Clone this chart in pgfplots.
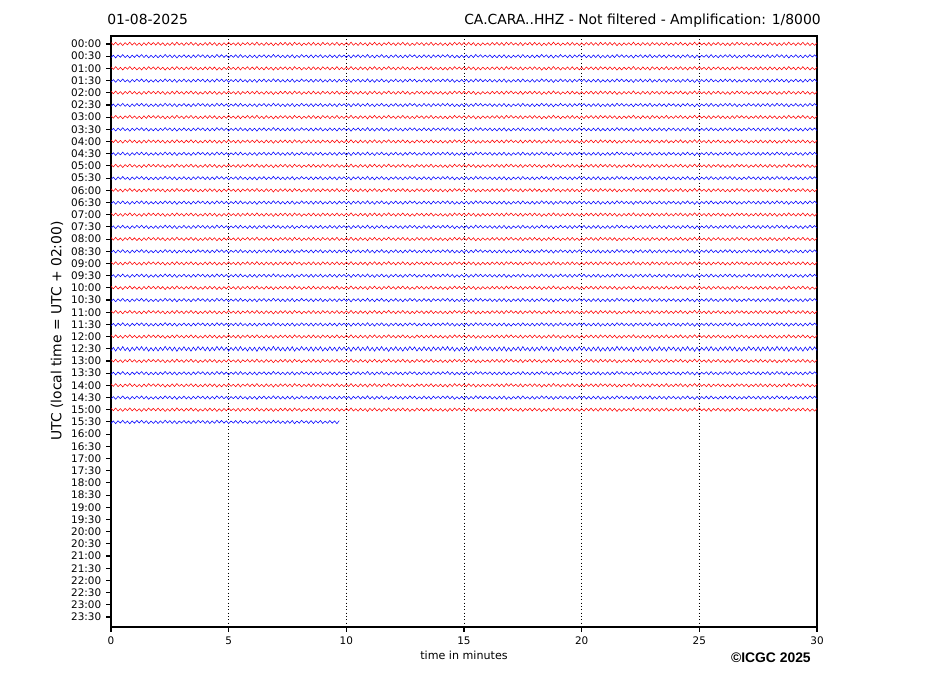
\documentclass[border=0pt]{standalone}
\usepackage{pgfplots}
\pgfplotsset{compat=1.18}
\usepackage{pgfplotstable}
\usepackage{fontspec}
\setmainfont{DejaVu Sans}
\newfontfamily\arialfont{Liberation Sans}

% one short stretch of trace noise, in row units (x in minutes)
\pgfplotstableread[row sep=\\]{
x y\\
0.0 -0.12\\ 0.1 0.08\\ 0.2 -0.14\\ 0.3 0.10\\ 0.4 -0.09\\ 0.5 0.13\\ 0.6 -0.11\\ 0.7 0.07\\ 0.8 -0.15\\ 0.9 0.09\\
1.0 -0.10\\ 1.1 0.12\\ 1.2 -0.08\\ 1.3 0.13\\ 1.4 -0.11\\ 1.5 0.10\\ 1.6 -0.14\\ 1.7 0.07\\ 1.8 -0.12\\ 1.9 0.09\\
2.0 -0.13\\ 2.1 0.09\\ 2.2 -0.10\\ 2.3 0.14\\ 2.4 -0.08\\ 2.5 0.11\\ 2.6 -0.12\\ 2.7 0.10\\ 2.8 -0.15\\ 2.9 0.08\\
3.0 -0.09\\ 3.1 0.12\\ 3.2 -0.11\\ 3.3 0.08\\ 3.4 -0.14\\ 3.5 0.10\\ 3.6 -0.10\\ 3.7 0.13\\ 3.8 -0.07\\ 3.9 0.11\\
4.0 -0.12\\ 4.1 0.10\\ 4.2 -0.13\\ 4.3 0.09\\ 4.4 -0.11\\ 4.5 0.14\\ 4.6 -0.08\\ 4.7 0.12\\ 4.8 -0.10\\ 4.9 0.09\\
5.0 -0.14\\ 5.1 0.08\\ 5.2 -0.09\\ 5.3 0.11\\ 5.4 -0.12\\ 5.5 0.13\\ 5.6 -0.10\\ 5.7 0.07\\ 5.8 -0.13\\ 5.9 0.10\\
6.0 -0.11\\ 6.1 0.09\\ 6.2 -0.15\\ 6.3 0.10\\ 6.4 -0.08\\ 6.5 0.12\\ 6.6 -0.12\\ 6.7 0.09\\ 6.8 -0.10\\ 6.9 0.14\\
7.0 -0.09\\ 7.1 0.11\\ 7.2 -0.12\\ 7.3 0.08\\ 7.4 -0.13\\ 7.5 0.10\\ 7.6 -0.11\\ 7.7 0.12\\ 7.8 -0.14\\ 7.9 0.07\\
8.0 -0.10\\ 8.1 0.13\\ 8.2 -0.08\\ 8.3 0.09\\ 8.4 -0.12\\ 8.5 0.11\\ 8.6 -0.13\\ 8.7 0.10\\ 8.8 -0.09\\ 8.9 0.12\\
9.0 -0.13\\ 9.1 0.07\\ 9.2 -0.11\\ 9.3 0.12\\ 9.4 -0.10\\ 9.5 0.09\\ 9.6 -0.14\\ 9.7 0.11\\ 9.8 -0.08\\ 9.9 0.10\\
10.0 -0.11\\ 10.1 0.09\\ 10.2 -0.15\\ 10.3 0.10\\ 10.4 -0.08\\ 10.5 0.12\\ 10.6 -0.12\\ 10.7 0.09\\ 10.8 -0.10\\ 10.9 0.14\\
11.0 -0.12\\ 11.1 0.08\\ 11.2 -0.14\\ 11.3 0.10\\ 11.4 -0.09\\ 11.5 0.13\\ 11.6 -0.11\\ 11.7 0.07\\ 11.8 -0.15\\ 11.9 0.09\\
12.0 -0.09\\ 12.1 0.12\\ 12.2 -0.11\\ 12.3 0.08\\ 12.4 -0.14\\ 12.5 0.10\\ 12.6 -0.10\\ 12.7 0.13\\ 12.8 -0.07\\ 12.9 0.11\\
13.0 -0.13\\ 13.1 0.07\\ 13.2 -0.11\\ 13.3 0.12\\ 13.4 -0.10\\ 13.5 0.09\\ 13.6 -0.14\\ 13.7 0.11\\ 13.8 -0.08\\ 13.9 0.10\\
14.0 -0.10\\ 14.1 0.12\\ 14.2 -0.08\\ 14.3 0.13\\ 14.4 -0.11\\ 14.5 0.10\\ 14.6 -0.14\\ 14.7 0.07\\ 14.8 -0.12\\ 14.9 0.09\\
15.0 -0.12\\ 15.1 0.10\\ 15.2 -0.13\\ 15.3 0.09\\ 15.4 -0.11\\ 15.5 0.14\\ 15.6 -0.08\\ 15.7 0.12\\ 15.8 -0.10\\ 15.9 0.09\\
16.0 -0.09\\ 16.1 0.11\\ 16.2 -0.12\\ 16.3 0.08\\ 16.4 -0.13\\ 16.5 0.10\\ 16.6 -0.11\\ 16.7 0.12\\ 16.8 -0.14\\ 16.9 0.07\\
17.0 -0.14\\ 17.1 0.08\\ 17.2 -0.09\\ 17.3 0.11\\ 17.4 -0.12\\ 17.5 0.13\\ 17.6 -0.10\\ 17.7 0.07\\ 17.8 -0.13\\ 17.9 0.10\\
18.0 -0.13\\ 18.1 0.09\\ 18.2 -0.10\\ 18.3 0.14\\ 18.4 -0.08\\ 18.5 0.11\\ 18.6 -0.12\\ 18.7 0.10\\ 18.8 -0.15\\ 18.9 0.08\\
19.0 -0.10\\ 19.1 0.13\\ 19.2 -0.08\\ 19.3 0.09\\ 19.4 -0.12\\ 19.5 0.11\\ 19.6 -0.13\\ 19.7 0.10\\ 19.8 -0.09\\ 19.9 0.12\\
20.0 -0.09\\ 20.1 0.11\\ 20.2 -0.12\\ 20.3 0.08\\ 20.4 -0.13\\ 20.5 0.10\\ 20.6 -0.11\\ 20.7 0.12\\ 20.8 -0.14\\ 20.9 0.07\\
21.0 -0.12\\ 21.1 0.10\\ 21.2 -0.13\\ 21.3 0.09\\ 21.4 -0.11\\ 21.5 0.14\\ 21.6 -0.08\\ 21.7 0.12\\ 21.8 -0.10\\ 21.9 0.09\\
22.0 -0.11\\ 22.1 0.09\\ 22.2 -0.15\\ 22.3 0.10\\ 22.4 -0.08\\ 22.5 0.12\\ 22.6 -0.12\\ 22.7 0.09\\ 22.8 -0.10\\ 22.9 0.14\\
23.0 -0.13\\ 23.1 0.07\\ 23.2 -0.11\\ 23.3 0.12\\ 23.4 -0.10\\ 23.5 0.09\\ 23.6 -0.14\\ 23.7 0.11\\ 23.8 -0.08\\ 23.9 0.10\\
24.0 -0.12\\ 24.1 0.08\\ 24.2 -0.14\\ 24.3 0.10\\ 24.4 -0.09\\ 24.5 0.13\\ 24.6 -0.11\\ 24.7 0.07\\ 24.8 -0.15\\ 24.9 0.09\\
25.0 -0.14\\ 25.1 0.08\\ 25.2 -0.09\\ 25.3 0.11\\ 25.4 -0.12\\ 25.5 0.13\\ 25.6 -0.10\\ 25.7 0.07\\ 25.8 -0.13\\ 25.9 0.10\\
26.0 -0.10\\ 26.1 0.12\\ 26.2 -0.08\\ 26.3 0.13\\ 26.4 -0.11\\ 26.5 0.10\\ 26.6 -0.14\\ 26.7 0.07\\ 26.8 -0.12\\ 26.9 0.09\\
27.0 -0.10\\ 27.1 0.13\\ 27.2 -0.08\\ 27.3 0.09\\ 27.4 -0.12\\ 27.5 0.11\\ 27.6 -0.13\\ 27.7 0.10\\ 27.8 -0.09\\ 27.9 0.12\\
28.0 -0.13\\ 28.1 0.09\\ 28.2 -0.10\\ 28.3 0.14\\ 28.4 -0.08\\ 28.5 0.11\\ 28.6 -0.12\\ 28.7 0.10\\ 28.8 -0.15\\ 28.9 0.08\\
29.0 -0.09\\ 29.1 0.12\\ 29.2 -0.11\\ 29.3 0.08\\ 29.4 -0.14\\ 29.5 0.10\\ 29.6 -0.10\\ 29.7 0.13\\ 29.8 -0.07\\ 29.9 0.11\\
30.0 -0.10\\
}\noise

\begin{document}
\begin{tikzpicture}
\begin{axis}[
  at={(79.92pt,49.68pt)}, anchor=south west,
  scale only axis, width=508.32pt, height=425.52pt,
  xmin=0, xmax=30, ymin=-0.656, ymax=47.82, y dir=reverse,
  xtick={0,5,10,15,20,25,30},
  ytick={0,1,...,47},
  yticklabels={00:00,00:30,01:00,01:30,02:00,02:30,03:00,03:30,04:00,04:30,05:00,05:30,
    06:00,06:30,07:00,07:30,08:00,08:30,09:00,09:30,10:00,10:30,11:00,11:30,
    12:00,12:30,13:00,13:30,14:00,14:30,15:00,15:30,16:00,16:30,17:00,17:30,
    18:00,18:30,19:00,19:30,20:00,20:30,21:00,21:30,22:00,22:30,23:00,23:30},
  xtick pos=bottom, ytick pos=left, tick align=outside,
  major tick length=3.5pt,
  every tick/.style={black, line width=0.8pt},
  axis line style={line width=0.8pt},
  tick label style={font=\fontsize{7.5}{9}\selectfont},
  /pgf/number format/assume math mode=true,
  xmajorgrids, ymajorgrids=false,
  grid style={black, dotted, line width=0.5pt},
  clip=true,
]
\pgfplotsinvokeforeach{0,2,...,30}{
  \addplot[red, line width=0.4pt] table[x=x, y expr=#1+\thisrow{y}] {\noise};
}
\pgfplotsinvokeforeach{1,3,...,23,27,29}{
  \addplot[blue, line width=0.4pt] table[x=x, y expr=#1-\thisrow{y}] {\noise};
}
\addplot[blue, line width=0.4pt] table[x=x, y expr=25-1.4*\thisrow{y}] {\noise};
\addplot[blue, line width=0.4pt, restrict x to domain=0:9.77] table[x=x, y expr=31-\thisrow{y}] {\noise};
\end{axis}
\node[inner sep=0pt, anchor=base west, font=\fontsize{10}{12}\selectfont] at (77.04pt,483.12pt) {01-08-2025};
\node[inner sep=0pt, anchor=base east, font=\fontsize{10}{12}\selectfont] at (591.12pt,483.12pt) {CA.CARA..HHZ - Not filtered - Amplification: 1/8000};
\node[inner sep=0pt, rotate=90, font=\fontsize{10}{12}\selectfont] at (41.04pt,262.8pt) {UTC (local time = UTC + 02:00)};
\node[inner sep=0pt, anchor=base, font=\fontsize{8}{10}\selectfont] at (334.08pt,25.92pt) {time in minutes};
\node[inner sep=0pt, anchor=base east, font=\arialfont\bfseries\fontsize{10}{12}\selectfont] at (583.92pt,23.76pt) {©ICGC 2025};
\pgfresetboundingbox
\path[use as bounding box] (0,0) rectangle (667.44pt,501.12pt);
\end{tikzpicture}
\end{document}
